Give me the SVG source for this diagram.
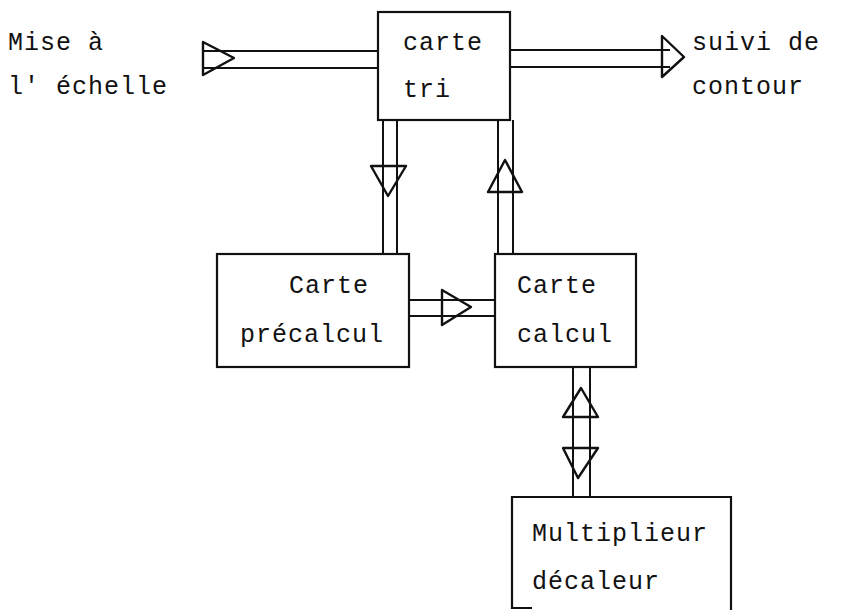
<svg xmlns="http://www.w3.org/2000/svg" width="864" height="610" viewBox="0 0 864 610">
<style>
.box{fill:none;stroke:#111;stroke-width:2.2}
.bus{fill:none;stroke:#111;stroke-width:2}
.hd{fill:none;stroke:#111;stroke-width:2.4;stroke-linejoin:round}
text{font-family:"Liberation Mono","Courier New",monospace;font-size:25px;letter-spacing:1px;fill:#111}
</style>
<rect width="864" height="610" fill="#fff"/>
<g id="connectors">
<path class="bus" d="M203,51 H378 M203,68 H378"/>
<polygon class="hd" points="203,42 234,58 203,75"/>
<path class="bus" d="M510,50 H670 M510,67 H670"/>
<polygon class="hd" points="662,36 684,57 662,77"/>
<path class="bus" d="M383,120 V254 M397,120 V254"/>
<polygon class="hd" points="371,166 406,166 388,196"/>
<path class="bus" d="M498,120 V254 M513,120 V254"/>
<polygon class="hd" points="505,160 522,192 488,192"/>
<path class="bus" d="M409,300 H495 M409,316 H495"/>
<polygon class="hd" points="442,290 471,307 442,325"/>
<path class="bus" d="M573,367 V497 M590,367 V497"/>
<polygon class="hd" points="581,388 598,417 563,417"/>
<polygon class="hd" points="563,448 598,448 578,478"/>
</g>
<g id="input-label">
<text x="8" y="50">Mise à</text>
<text x="8" y="94">l' échelle</text>
</g>
<g id="output-label">
<text x="692" y="50">suivi de</text>
<text x="692" y="94">contour</text>
</g>
<g id="carte-tri">
<rect class="box" x="378" y="12" width="132" height="108"/>
<text x="403" y="50">carte</text>
<text x="403" y="97">tri</text>
</g>
<g id="carte-precalcul">
<rect class="box" x="217" y="254" width="192" height="113"/>
<text x="289" y="293">Carte</text>
<text x="240" y="342">précalcul</text>
</g>
<g id="carte-calcul">
<rect class="box" x="495" y="254" width="141" height="113"/>
<text x="517" y="293">Carte</text>
<text x="517" y="342">calcul</text>
</g>
<g id="multiplieur">
<path class="box" d="M532,608 H512 V497 H731 V612"/>
<text x="532" y="541">Multiplieur</text>
<text x="532" y="589">décaleur</text>
</g>
</svg>
